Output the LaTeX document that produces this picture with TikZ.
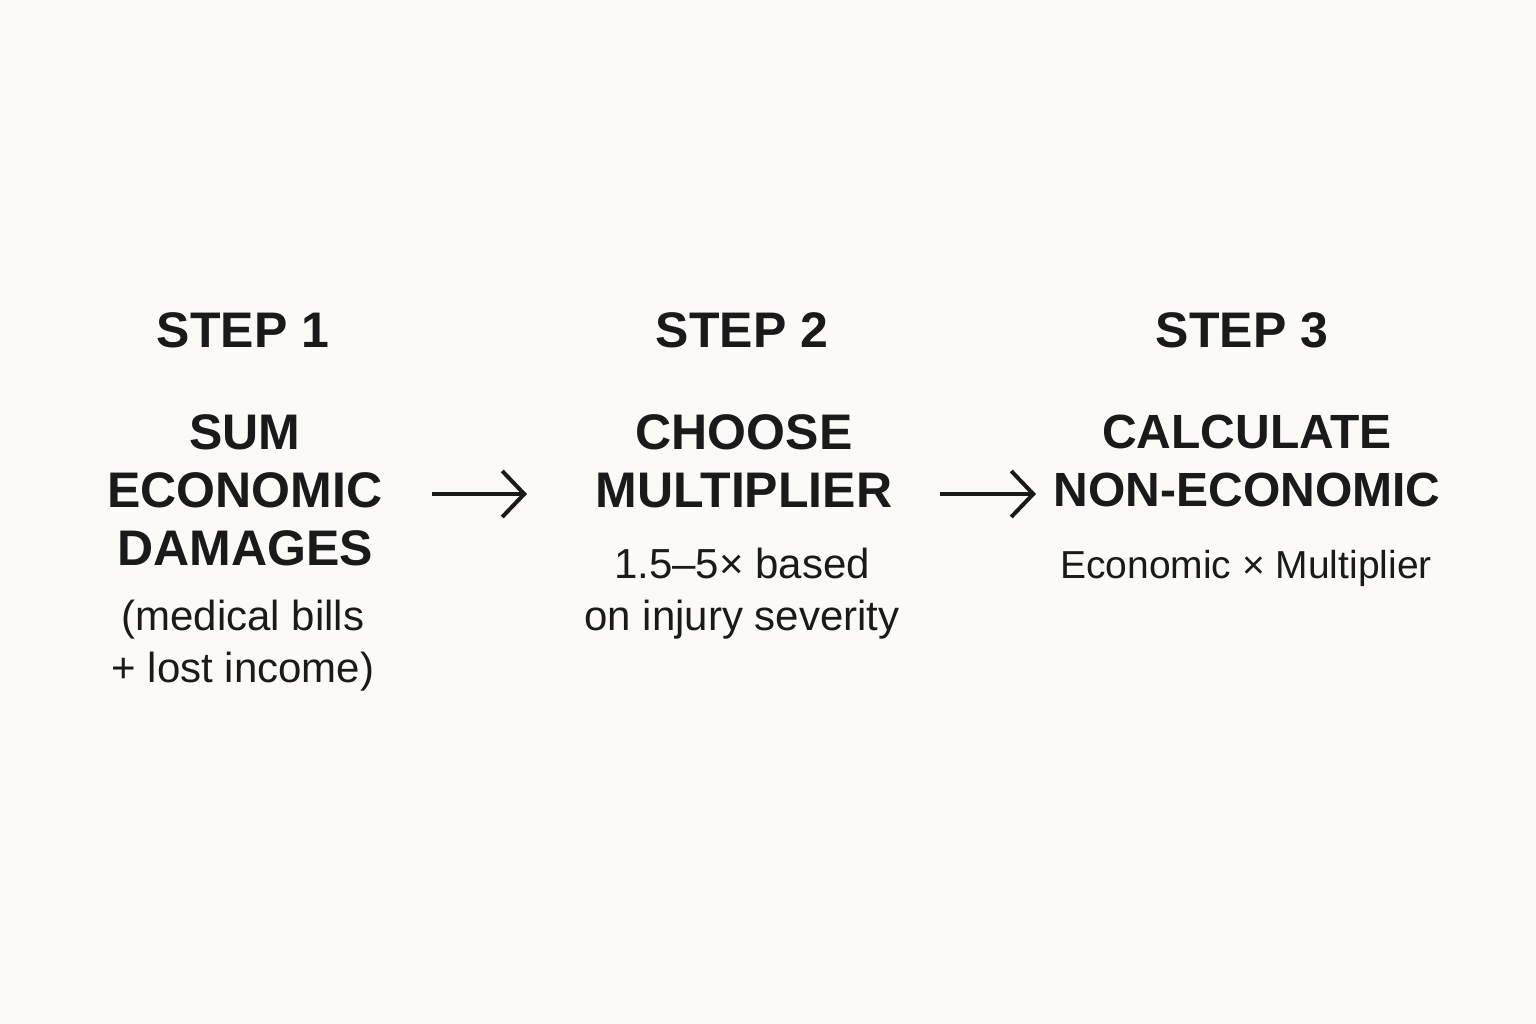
\documentclass[tikz,border=0pt]{standalone}
\usepackage{fontspec}
\setmainfont{Liberation Sans}
\usetikzlibrary{arrows.meta}
\definecolor{bg}{HTML}{FBFAF7}
\definecolor{ink}{HTML}{1A1A1A}
\begin{document}
\begin{tikzpicture}[x=1pt,y=-1pt,
  head/.style={text=ink,font=\fontsize{50}{58}\selectfont\bfseries,align=center,inner sep=0},
  body/.style={text=ink,font=\fontsize{42}{52}\selectfont,align=center,inner sep=0},
  arr/.style={draw=ink,line width=4pt,-{Straight Barb[length=22pt,width=46pt,line width=4pt]}}]
\fill[bg] (0,0) rectangle (1536,1024);
\useasboundingbox (0,0) rectangle (1536,1024);
\node[head] (s1) at (243,330) {STEP 1};
\node[head] (s2) at (742,330) {STEP 2};
\node[head] (s3) at (1242,330) {STEP 3};
\node[head] (t1) at (245,490) {SUM\\ECONOMIC\\DAMAGES};
\node[head] (t2) at (744,461) {CHOOSE\\MULTIPLIER};
\node[head,font=\fontsize{48}{58}\selectfont\bfseries] (t3) at (1247,461) {CALCULATE\\NON-ECONOMIC};
\node[body] (b1) at (243,646) {(medical bills\\+ lost income)};
\node[body] (b2) at (742,594) {1.5–5× based\\on injury severity};
\node[body,font=\fontsize{39}{52}\selectfont] (b3) at (1246,568) {Economic × Multiplier};
\coordinate (a1s) at (432,494); \coordinate (a1e) at (527,494);
\coordinate (a2s) at (940,494); \coordinate (a2e) at (1036,494);
\draw[arr] (a1s) -- (a1e);
\draw[arr] (a2s) -- (a2e);
\end{tikzpicture}
\end{document}
